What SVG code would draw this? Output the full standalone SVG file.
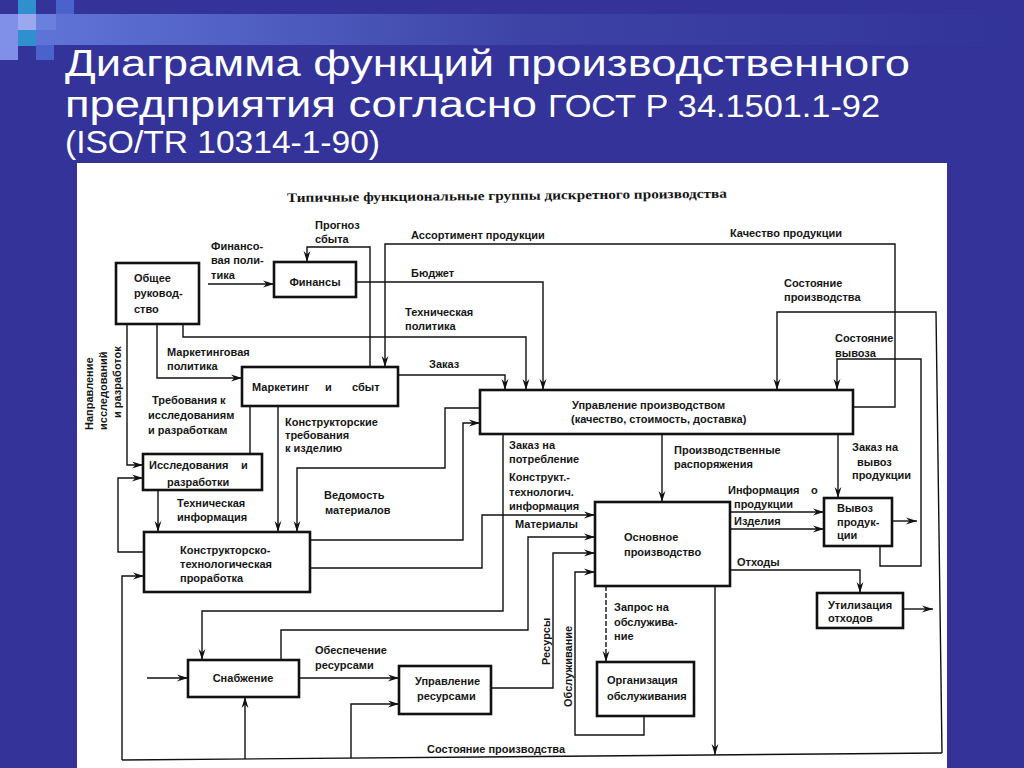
<svg xmlns="http://www.w3.org/2000/svg" width="1024" height="768" viewBox="0 0 1024 768">
<defs>
<linearGradient id="band" x1="0" y1="0" x2="1" y2="0">
<stop offset="0" stop-color="#6074D8"/>
<stop offset="0.5" stop-color="#3C43A5"/>
<stop offset="1" stop-color="#333399"/>
</linearGradient>
<marker id="ah" markerUnits="userSpaceOnUse" markerWidth="12" markerHeight="8" refX="11" refY="4" orient="auto" viewBox="0 0 12 8">
<path d="M0,0.6 L11,4 L0,7.4 L3.5,4 Z" fill="#111"/>
</marker>
<style>
.box{fill:#fff;stroke:#111;stroke-width:2.6}
.ln{fill:none;stroke:#111;stroke-width:1.4}
.ar{marker-end:url(#ah)}
.dash{stroke-dasharray:5 2}
.t{font-family:"Liberation Sans",Arial,sans-serif;font-size:11px;font-weight:bold;fill:#161616}
.hd{font-family:"Liberation Serif","Times New Roman",serif;font-size:13px;font-weight:bold;fill:#161616}
.ttl{font-family:"Liberation Sans",Arial,sans-serif;fill:#fff}
</style>
</defs>
<rect x="0" y="0" width="1024" height="768" fill="#333399"/>
<rect x="36" y="14" width="988" height="31" fill="url(#band)"/>
<g id="decor">
<rect x="18" y="0" width="18" height="14" fill="#2F8FCF"/>
<rect x="0" y="14" width="18" height="46" fill="#8090E8"/>
<rect x="18" y="14" width="18" height="16" fill="#9AA8F0"/>
<rect x="36" y="14" width="20" height="16" fill="#6A80DD"/>
<rect x="18" y="30" width="18" height="16" fill="#2F8FCF"/>
<rect x="56" y="0" width="18" height="14" fill="#4A62CC"/>
<rect x="36" y="45" width="18" height="15" fill="#4A62CC"/>
</g>
<g id="title">
<text class="ttl" x="65" y="76" font-size="36" textLength="845" lengthAdjust="spacingAndGlyphs">Диаграмма функций производственного</text>
<text class="ttl" x="65" y="117" font-size="36" textLength="472" lengthAdjust="spacingAndGlyphs">предприятия согласно</text>
<text class="ttl" x="548" y="117" font-size="32" textLength="332" lengthAdjust="spacingAndGlyphs">ГОСТ Р 34.1501.1-92</text>
<text class="ttl" x="65" y="153" font-size="31" textLength="315" lengthAdjust="spacingAndGlyphs">(ISO/TR 10314-1-90)</text>
</g>
<rect id="panel" x="77" y="163" width="870" height="605" fill="#fff"/>
<text class="hd" x="287" y="202" textLength="440" lengthAdjust="spacingAndGlyphs" transform="rotate(-0.55 287 202)">Типичные функциональные группы дискретного производства</text>

<g id="connectors">
<path class="ln ar" d="M208,284 H274"/>
<path class="ln ar" d="M370,367 V247 H307 V262"/>
<path class="ln ar" d="M853,407 H895 V244 H385 V367"/>
<path class="ln ar" d="M356,282 H543 V390"/>
<path class="ln ar" d="M183,324 V337 H526 V390"/>
<path class="ln ar" d="M157,324 V378 H242"/>
<path class="ln ar" d="M127,324 V465 H143"/>
<path class="ln ar" d="M398,375 H505 V390"/>
<path class="ln" d="M250,406 V454"/>
<path class="ln ar" d="M278,406 V532"/>
<path class="ln ar" d="M158,490 V532"/>
<path class="ln ar" d="M480,408 H445 V468 H297 V532"/>
<path class="ln ar" d="M310,540 H463 V423 H480"/>
<path class="ln ar" d="M310,568 H482 V515 H595"/>
<path class="ln ar" d="M503,434 V611 H202 V660"/>
<path class="ln ar" d="M281,660 V630 H528 V537 H595"/>
<path class="ln ar" d="M491,688 H553 V553 H595"/>
<path class="ln ar" d="M644,716 V735 H575 V572 H595"/>
<path class="ln ar dash" d="M606,586 V662"/>
<path class="ln ar" d="M715,586 V755"/>
<path class="ln ar" d="M662,434 V502"/>
<path class="ln ar" d="M838,434 V498"/>
<path class="ln ar" d="M730,512 H824"/>
<path class="ln ar" d="M730,529 H824"/>
<path class="ln ar" d="M730,570 H860 V593"/>
<path class="ln ar" d="M892,521 H917"/>
<path class="ln ar" d="M903,609 H933"/>
<path class="ln ar" d="M880,546 V566 H921 V359 H837 V390"/>
<path class="ln" d="M122,760 L942,753"/>
<path class="ln ar" d="M122,760 V576 H144"/>
<path class="ln ar" d="M942,753 L936,312 H777 V390"/>
<path class="ln ar" d="M245,759 V697"/>
<path class="ln ar" d="M351,758 V704 H399"/>
<path class="ln ar" d="M144,552 H118 V478 H143"/>
<path class="ln ar" d="M299,678 H399"/>
<path class="ln ar" d="M147,678 H188"/>
</g>

<g id="connector-labels">
<text class="t" x="211" y="250">Финансо-</text>
<text class="t" x="211" y="264">вая поли-</text>
<text class="t" x="211" y="279">тика</text>
<text class="t" x="315" y="229">Прогноз</text>
<text class="t" x="315" y="243">сбыта</text>
<text class="t" x="411" y="239">Ассортимент продукции</text>
<text class="t" x="730" y="237">Качество продукции</text>
<text class="t" x="411" y="277">Бюджет</text>
<text class="t" x="405" y="316">Техническая</text>
<text class="t" x="405" y="330">политика</text>
<text class="t" x="167" y="356">Маркетинговая</text>
<text class="t" x="167" y="370">политика</text>
<text class="t" x="429" y="368">Заказ</text>
<text class="t" x="152" y="404">Требования к</text>
<text class="t" x="148" y="419">исследованиям</text>
<text class="t" x="148" y="434">и разработкам</text>
<text class="t" x="285" y="426">Конструкторские</text>
<text class="t" x="285" y="439">требования</text>
<text class="t" x="285" y="452">к изделию</text>
<text class="t" x="177" y="507">Техническая</text>
<text class="t" x="177" y="521">информация</text>
<text class="t" x="324" y="499">Ведомость</text>
<text class="t" x="325" y="514">материалов</text>
<text class="t" x="509" y="449">Заказ на</text>
<text class="t" x="509" y="463">потребление</text>
<text class="t" x="509" y="481">Конструкт.-</text>
<text class="t" x="509" y="496">технологич.</text>
<text class="t" x="509" y="510">информация</text>
<text class="t" x="515" y="528">Материалы</text>
<text class="t" x="674" y="454">Производственные</text>
<text class="t" x="674" y="468">распоряжения</text>
<text class="t" x="852" y="451">Заказ на</text>
<text class="t" x="857" y="466">вывоз</text>
<text class="t" x="852" y="479">продукции</text>
<text class="t" x="784" y="287">Состояние</text>
<text class="t" x="784" y="301">производства</text>
<text class="t" x="835" y="342">Состояние</text>
<text class="t" x="835" y="357">вывоза</text>
<text class="t" x="728" y="494">Информация</text>
<text class="t" x="811" y="494">о</text>
<text class="t" x="734" y="508">продукции</text>
<text class="t" x="734" y="525">Изделия</text>
<text class="t" x="737" y="566">Отходы</text>
<text class="t" x="315" y="654">Обеспечение</text>
<text class="t" x="315" y="669">ресурсами</text>
<text class="t" x="614" y="611">Запрос на</text>
<text class="t" x="614" y="626">обслужива-</text>
<text class="t" x="614" y="640">ние</text>
<text class="t" x="427" y="753">Состояние производства</text>
<text class="t" transform="translate(550 665) rotate(-90)">Ресурсы</text>
<text class="t" transform="translate(572 707) rotate(-90)">Обслуживание</text>
<text class="t" transform="translate(93 430) rotate(-90)">Направление</text>
<text class="t" transform="translate(107 430) rotate(-90)">исследований</text>
<text class="t" transform="translate(121 418) rotate(-90)">и разработок</text>
</g>

<g id="n-obshchee-rukovodstvo">
<rect class="box" x="116" y="263" width="83" height="61"/>
<text class="t" x="134" y="282">Общее</text>
<text class="t" x="134" y="297">руковод-</text>
<text class="t" x="134" y="313">ство</text>
</g>
<g id="n-finansy">
<rect class="box" x="274" y="262" width="82" height="35"/>
<text class="t" x="315" y="286" text-anchor="middle">Финансы</text>
</g>
<g id="n-marketing">
<rect class="box" x="242" y="367" width="156" height="39"/>
<text class="t" x="252" y="391">Маркетинг</text>
<text class="t" x="325" y="391">и</text>
<text class="t" x="352" y="391">сбыт</text>
</g>
<g id="n-issledovaniya">
<rect class="box" x="143" y="454" width="119" height="36"/>
<text class="t" x="149" y="469">Исследования</text>
<text class="t" x="241" y="469">и</text>
<text class="t" x="167" y="486">разработки</text>
</g>
<g id="n-konstruktorsko">
<rect class="box" x="144" y="532" width="166" height="60"/>
<text class="t" x="180" y="554">Конструкторско-</text>
<text class="t" x="180" y="568">технологическая</text>
<text class="t" x="180" y="582">проработка</text>
</g>
<g id="n-upravlenie-proizvodstvom">
<rect class="box" x="480" y="390" width="373" height="44"/>
<text class="t" x="572" y="409">Управление производством</text>
<text class="t" x="571" y="423">(качество, стоимость, доставка)</text>
</g>
<g id="n-osnovnoe">
<rect class="box" x="595" y="502" width="135" height="84"/>
<text class="t" x="624" y="541">Основное</text>
<text class="t" x="624" y="556">производство</text>
</g>
<g id="n-vyvoz">
<rect class="box" x="824" y="498" width="68" height="48"/>
<text class="t" x="837" y="512">Вывоз</text>
<text class="t" x="837" y="526">продук-</text>
<text class="t" x="837" y="539">ции</text>
</g>
<g id="n-utilizatsiya">
<rect class="box" x="817" y="593" width="86" height="35"/>
<text class="t" x="828" y="609">Утилизация</text>
<text class="t" x="828" y="622">отходов</text>
</g>
<g id="n-snabzhenie">
<rect class="box" x="188" y="660" width="111" height="37"/>
<text class="t" x="243" y="682" text-anchor="middle">Снабжение</text>
</g>
<g id="n-upravlenie-resursami">
<rect class="box" x="399" y="666" width="92" height="48"/>
<text class="t" x="415" y="685">Управление</text>
<text class="t" x="417" y="700">ресурсами</text>
</g>
<g id="n-organizatsiya">
<rect class="box" x="597" y="662" width="97" height="54"/>
<text class="t" x="607" y="684">Организация</text>
<text class="t" x="607" y="700">обслуживания</text>
</g>
</svg>
